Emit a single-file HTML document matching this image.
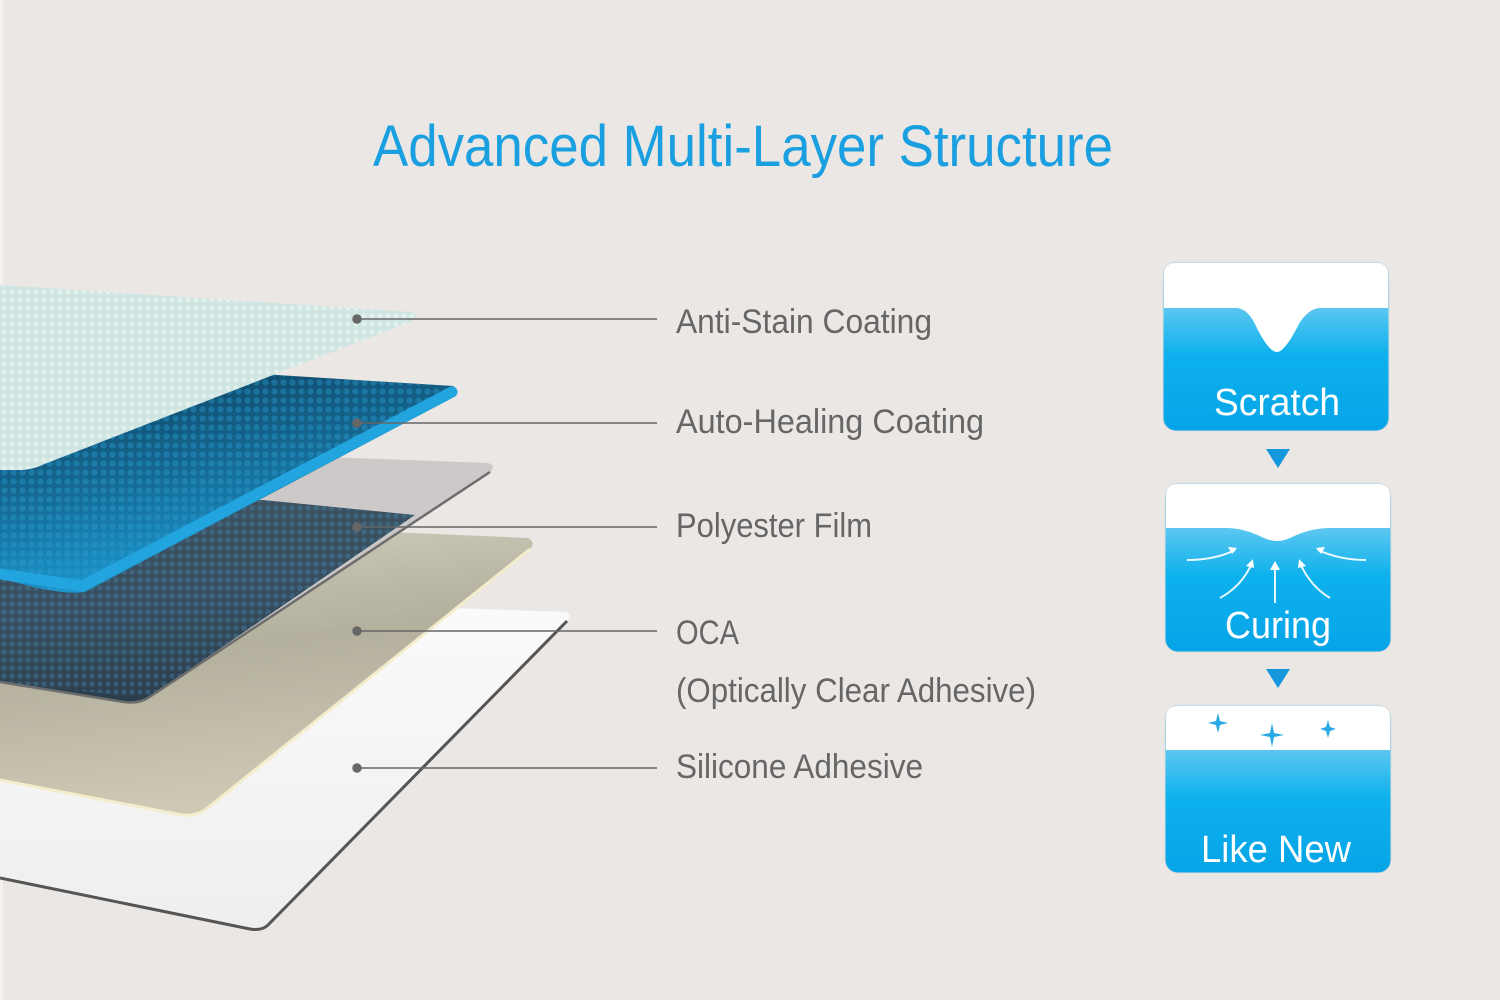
<!DOCTYPE html>
<html><head><meta charset="utf-8"><style>
html,body{margin:0;padding:0;background:#ebe7e5;}
svg{display:block;}
text{font-family:"Liberation Sans",sans-serif;}
</style></head><body>
<svg width="1500" height="1000" viewBox="0 0 1500 1000" xmlns="http://www.w3.org/2000/svg">
<defs>
<linearGradient id="bl" x1="0" y1="0" x2="0" y2="1">
<stop offset="0" stop-color="#a8dcf5"/><stop offset="0.55" stop-color="#0db1ec"/><stop offset="1" stop-color="#06a4e8"/></linearGradient>
<linearGradient id="blue" x1="0" y1="0" x2="0.35" y2="1">
<stop offset="0" stop-color="#0d3b58"/><stop offset="0.5" stop-color="#14668f"/><stop offset="1" stop-color="#1c9bd3"/></linearGradient>
<linearGradient id="poly" x1="0" y1="0" x2="0.25" y2="1">
<stop offset="0" stop-color="#33485a"/><stop offset="0.6" stop-color="#2c4558"/><stop offset="1" stop-color="#1f3344"/></linearGradient>
<linearGradient id="oca" x1="0" y1="0" x2="0.2" y2="1">
<stop offset="0" stop-color="#d5d2c2"/><stop offset="0.5" stop-color="#aeaa96"/><stop offset="1" stop-color="#cac6b0"/></linearGradient>
<linearGradient id="sil" x1="0" y1="0" x2="0" y2="1">
<stop offset="0" stop-color="#fbfbfb"/><stop offset="1" stop-color="#efeeee"/></linearGradient>
<pattern id="dots" width="9" height="9" patternUnits="userSpaceOnUse"><circle cx="4.5" cy="4.5" r="3.2" fill="#2a9dd3" opacity="0.4"/></pattern>
<pattern id="dots2" width="8" height="8" patternUnits="userSpaceOnUse"><circle cx="4" cy="4" r="2.8" fill="#4a8fb5" opacity="0.35"/></pattern>
<pattern id="mint" width="8" height="8" patternUnits="userSpaceOnUse"><rect width="8" height="8" fill="#cfe5e2"/><circle cx="4" cy="4" r="2.5" fill="#e2f0ee"/></pattern>
</defs>
<rect x="0" y="0" width="3" height="1000" fill="#f4f2f1"/>
<text x="743" y="166" text-anchor="middle" font-size="58" fill="#1a9fe0" textLength="740" lengthAdjust="spacingAndGlyphs">Advanced Multi-Layer Structure</text>

<!-- silicone -->
<path d="M0,592 L566,612 Q573,615 567,621 L268,925 Q262,931 250,929 L0,878 Z" fill="url(#sil)"/>
<path d="M567,621 L268,925 Q262,931 250,929 L0,878" fill="none" stroke="#555" stroke-width="3"/>
<!-- OCA -->
<path d="M0,515 L528,538 Q536,542 530,549 L205,810 Q196,816 182,815 L0,780 Z" fill="url(#oca)" opacity="0.93"/>
<path d="M530,549 L205,810 Q196,816 182,815 L0,780" fill="none" stroke="#f3edcc" stroke-width="3"/>
<!-- polyester -->
<path d="M0,445 L488,463 Q497,466 490,472 L148,698 Q138,704 124,702 L0,682 Z" fill="#cbc7c6" opacity="0.95"/>
<path d="M0,495 L263,500 L415,515 L148,698 Q138,704 124,702 L0,682 Z" fill="url(#poly)" opacity="0.93"/>
<path d="M0,495 L263,500 L415,515 L148,698 L0,682 Z" fill="url(#dots2)"/>
<path d="M490,472 L148,698 Q138,704 124,702 L0,682" fill="none" stroke="#6d6d6d" stroke-width="2.5"/>
<!-- auto healing -->
<path d="M200,365 L277,375 L453,386 Q462,392 452,398 L85,592 Q60,596 0,578 L0,420 Z" fill="url(#blue)"/>
<path d="M200,365 L277,375 L453,386 Q462,392 452,398 L85,592 Q60,596 0,578 L0,420 Z" fill="url(#dots)"/>
<path d="M452,392 L82,586 L0,574" fill="none" stroke="#22a5de" stroke-width="11" stroke-linecap="round"/>
<!-- anti-stain -->
<path d="M0,285 L412,312 Q421,316 412,321 L42,465 Q34,469 22,470 L0,470 Z" fill="url(#mint)"/>

<!-- leader lines -->
<g stroke="#666" stroke-width="1.5" fill="#666">
<line x1="357" y1="319" x2="657" y2="319"/><circle cx="357" cy="319" r="4"/>
<line x1="357" y1="423" x2="657" y2="423"/><circle cx="357" cy="423" r="4"/>
<line x1="357" y1="527" x2="657" y2="527"/><circle cx="357" cy="527" r="4"/>
<line x1="357" y1="631" x2="657" y2="631"/><circle cx="357" cy="631" r="4"/>
<line x1="357" y1="768" x2="657" y2="768"/><circle cx="357" cy="768" r="4"/>
</g>
<g font-size="34" fill="#666">
<text x="676" y="333" textLength="256" lengthAdjust="spacingAndGlyphs">Anti-Stain Coating</text>
<text x="676" y="433" textLength="308" lengthAdjust="spacingAndGlyphs">Auto-Healing Coating</text>
<text x="676" y="537" textLength="196" lengthAdjust="spacingAndGlyphs">Polyester Film</text>
<text x="676" y="644" textLength="63" lengthAdjust="spacingAndGlyphs">OCA</text>
<text x="676" y="702" textLength="360" lengthAdjust="spacingAndGlyphs">(Optically Clear Adhesive)</text>
<text x="676" y="778" textLength="247" lengthAdjust="spacingAndGlyphs">Silicone Adhesive</text>
</g>

<!-- panels -->
<g>
<rect x="1163" y="262" width="226" height="169" rx="13" fill="url(#bl)" stroke="#ddd"/>
<path d="M1164,275 Q1164,263 1176,263 L1376,263 Q1388,263 1388,275 L1388,308 L1320,308 Q1310,308 1300,322 Q1285,352 1277,352 Q1268,352 1254,322 Q1246,308 1236,308 L1164,308 Z" fill="#fff"/>
<text x="1277" y="415" text-anchor="middle" font-size="38" fill="#fff" textLength="126" lengthAdjust="spacingAndGlyphs">Scratch</text>
</g>
<path d="M1266,449 L1290,449 L1278,468 Z" fill="#1597dd"/>
<g>
<rect x="1165" y="483" width="226" height="169" rx="13" fill="url(#bl)" stroke="#ddd"/>
<path d="M1166,496 Q1166,484 1178,484 L1378,484 Q1390,484 1390,496 L1390,528 L1330,528 Q1310,528 1290,538 Q1277,544 1264,538 Q1244,528 1226,528 L1166,528 Z" fill="#fff"/>
<g stroke="#fff" stroke-width="2" fill="none" opacity="0.9">
<path d="M1187,560 Q1215,560 1235,550"/><path d="M1366,560 Q1340,560 1318,550"/>
<path d="M1220,598 Q1242,586 1252,563"/><path d="M1330,598 Q1310,586 1300,563"/>
<path d="M1275,603 L1275,566"/>
</g>
<g fill="#fff"><path d="M1237,548 L1228,547 L1232,554 Z"/><path d="M1316,548 L1325,547 L1321,554 Z"/><path d="M1253,559 L1246,566 L1254,568 Z"/><path d="M1299,559 L1306,566 L1298,568 Z"/><path d="M1275,561 L1270,570 L1280,570 Z"/></g>
<text x="1278" y="638" text-anchor="middle" font-size="38" fill="#fff" textLength="106" lengthAdjust="spacingAndGlyphs">Curing</text>
</g>
<path d="M1266,669 L1290,669 L1278,688 Z" fill="#1597dd"/>
<g>
<rect x="1165" y="705" width="226" height="168" rx="13" fill="url(#bl)" stroke="#ddd"/>
<path d="M1166,718 Q1166,706 1178,706 L1378,706 Q1390,706 1390,718 L1390,750 L1166,750 Z" fill="#fff"/>
<g fill="#28a9e6">
<path d="M1218,713 L1220,721 L1228,723 L1220,725 L1218,733 L1216,725 L1208,723 L1216,721 Z"/>
<path d="M1272,723 L1274,733 L1284,735 L1274,737 L1272,747 L1270,737 L1260,735 L1270,733 Z"/>
<path d="M1328,720 L1330,727 L1336,729 L1330,731 L1328,738 L1326,731 L1320,729 L1326,727 Z"/>
</g>
<text x="1276" y="862" text-anchor="middle" font-size="38" fill="#fff" textLength="150" lengthAdjust="spacingAndGlyphs">Like New</text>
</g>
</svg>
</body></html>
